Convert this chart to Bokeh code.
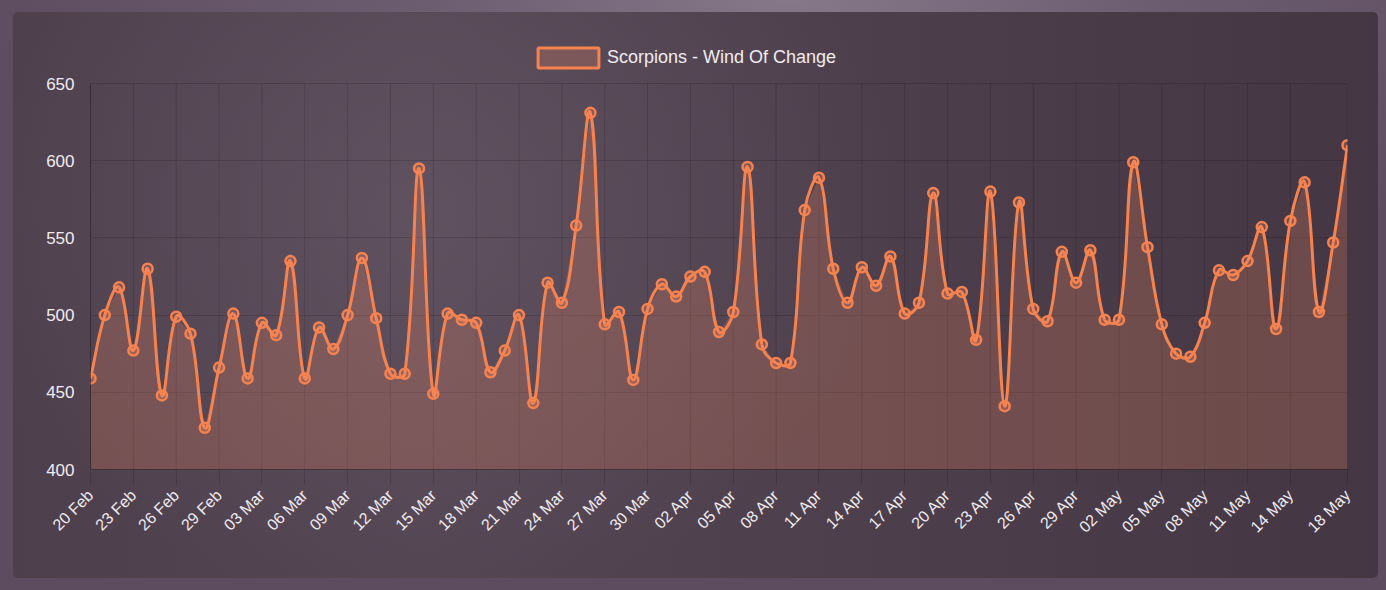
import math
import numpy as np
import pandas as pd
from bokeh.plotting import figure
from bokeh.models import FixedTicker, Legend, LegendItem, GlobalInlineStyleSheet
from bokeh.embed import file_html
from bokeh.resources import INLINE

# daily values, 20 Feb - 18 May 2020
dates = pd.date_range("2020-02-20", "2020-05-18", freq="D")
plays = [459, 500, 518, 477, 530, 448, 499, 488, 427, 466,
         501, 459, 495, 487, 535, 459, 492, 478, 500, 537,
         498, 462, 462, 595, 449, 501, 497, 495, 463, 477,
         500, 443, 521, 508, 558, 631, 494, 502, 458, 504,
         520, 512, 525, 528, 489, 502, 596, 481, 469, 469,
         568, 589, 530, 508, 531, 519, 538, 501, 508, 579,
         514, 515, 484, 580, 441, 573, 504, 496, 541, 521,
         542, 497, 497, 599, 544, 494, 475, 473, 495, 529,
         526, 535, 557, 491, 561, 586, 502, 547, 610]
series_name = "Scorpions - Wind Of Change"
y_ticks = [400, 450, 500, 550, 600, 650]
x_tick_idx = list(range(0, 85, 3)) + [88]
x_tick_labels = [dates[i].strftime("%d %b") for i in x_tick_idx]

LINE = "#f6834f"
FILL = "#ff8c64"
TXT = "#f0ecf0"
FONT = "Liberation Sans"

W, H = 1365, 566
ML, MR, MT, MB = 77, 31, 28, 109
EXTRA = 43                      # room above the 650 line, kept inside the frame for the legend
ymin, ymax = 400, 650
plot_h = H - MT - MB - EXTRA
sy = plot_h / (ymax - ymin)
ytop = ymax + EXTRA / sy

xs = np.arange(len(plays), dtype=float)
ys = np.array(plays, dtype=float)

# smooth curve control points (same idea as chart.js tension 0.4), done in pixel space
sx = (W - ML - MR) / (len(plays) - 1)
px, py = xs * sx, ys * sy
prev_x, prev_y = np.r_[px[0], px[:-1]], np.r_[py[0], py[:-1]]
next_x, next_y = np.r_[px[1:], px[-1]], np.r_[py[1:], py[-1]]
d01 = np.hypot(px - prev_x, py - prev_y)
d12 = np.hypot(next_x - px, next_y - py)
tot = d01 + d12
fa = 0.4 * d01 / tot
fb = 0.4 * d12 / tot
cpa_x, cpa_y = px - fa * (next_x - prev_x), py - fa * (next_y - prev_y)
cpb_x, cpb_y = px + fb * (next_x - prev_x), py + fb * (next_y - prev_y)
cpa_y = np.clip(cpa_y / sy, ymin, ymax)
cpb_y = np.clip(cpb_y / sy, ymin, ymax)
cpa_x, cpb_x = cpa_x / sx, cpb_x / sx

p = figure(width=W, height=H, margin=(12, 0, 0, 13),
           x_range=(0, len(plays) - 1), y_range=(ymin, ytop),
           output_backend="svg", toolbar_location=None,
           min_border_left=ML, min_border_right=MR,
           min_border_top=MT, min_border_bottom=MB)
p.border_fill_alpha = 0
p.background_fill_alpha = 0
p.styles = {"background": "radial-gradient(ellipse 35% 70% at 30% 35%, rgba(120,105,120,0.35), rgba(0,0,0,0)),"
                          "linear-gradient(90deg, #4e3f4c 0%, #544553 30%, #4c3e4b 65%, #443743 100%)",
            "border-radius": "5px"}
p.stylesheets = [GlobalInlineStyleSheet(css=
    "html, body { background: radial-gradient(ellipse 60% 50% at 57% 0%, #867889 0%, #6c5c70 45%, #5d4c60 100%);"
    " min-height: 100%; }")]

# vertical grid lines, only over the value range
p.segment(x0=x_tick_idx, y0=ymin, x1=x_tick_idx, y1=ymax,
          line_color="black", line_alpha=0.14, line_width=1)
# area under the values
p.varea(x=xs, y1=ymin, y2=ys, fill_color=FILL, fill_alpha=0.22)
# smooth line
p.bezier(x0=xs[:-1], y0=ys[:-1], x1=xs[1:], y1=ys[1:],
         cx0=cpb_x[:-1], cy0=cpb_y[:-1], cx1=cpa_x[1:], cy1=cpa_y[1:],
         line_color=LINE, line_width=3)
p.scatter(xs, ys, size=10, line_color=LINE, line_width=2.5,
          fill_color=FILL, fill_alpha=0.25)

# legend key only (hidden in the plot, still drawn in the legend)
key = p.quad(left=xs[:1], right=xs[:1], top=ys[:1], bottom=ys[:1],
             fill_color=FILL, fill_alpha=0.22, line_color=LINE, line_width=3)
key.visible = False
# area keys are drawn 10% inset, so the slot is a bit larger than the box
legend = Legend(items=[LegendItem(label=series_name, renderers=[key])],
                location=(440, plot_h + 13.5), orientation="horizontal",
                background_fill_alpha=0, border_line_alpha=0, padding=0, margin=0,
                glyph_width=76, glyph_height=25, label_standoff=1, label_height=20,
                label_text_color=TXT, label_text_font_size="18px", label_text_font=FONT,
                label_text_baseline="middle")
p.add_layout(legend, "center")

p.xaxis.ticker = FixedTicker(ticks=x_tick_idx)
p.xaxis.major_label_overrides = {i: s for i, s in zip(x_tick_idx, x_tick_labels)}
p.xaxis.major_label_orientation = math.pi / 4
p.yaxis.ticker = FixedTicker(ticks=y_ticks)
p.yaxis.bounds = (ymin, ymax)

for ax in (p.xaxis[0], p.yaxis[0]):
    ax.axis_line_color = "black"
    ax.axis_line_alpha = 0.28
    ax.minor_tick_line_color = None
    ax.major_tick_in = 0
    ax.major_tick_line_color = "black"
    ax.major_tick_line_alpha = 0.15
    ax.major_label_text_color = TXT
    ax.major_label_text_font = FONT
p.xaxis.major_tick_out = 14
p.xaxis.major_label_text_font_size = "16px"
p.xaxis.major_label_standoff = 9
p.yaxis.major_tick_out = 0
p.yaxis.major_label_text_font_size = "17px"
p.yaxis.major_label_standoff = 16

p.xgrid.visible = False
p.ygrid.grid_line_color = "black"
p.ygrid.grid_line_alpha = 0.14
p.outline_line_color = None

open("out.html", "w").write(file_html(p, INLINE))
